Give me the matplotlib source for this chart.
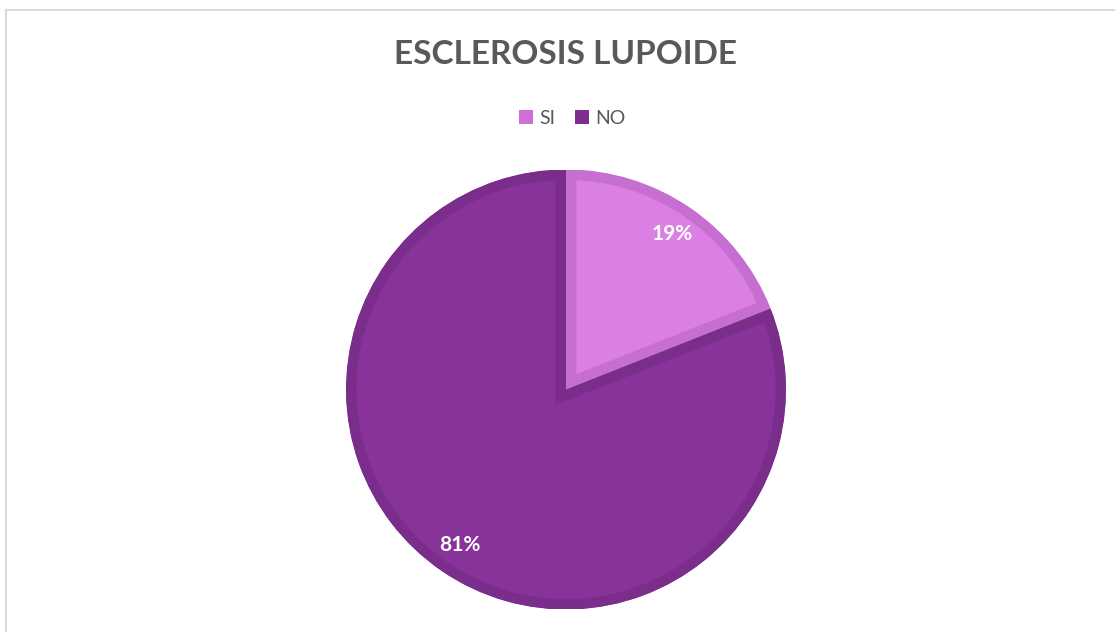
import matplotlib.pyplot as plt
from matplotlib.patches import Rectangle

# data
labels = ['SI', 'NO']
values = [19, 81]
colors = ['#dc7fe4', '#88339a']
edge_colors = ['#c66fd1', '#7b2d8b']
title = 'ESCLEROSIS LUPOIDE'

plt.rcParams['font.family'] = ['Lato', 'DejaVu Sans']

W, H = 1115, 632
fig = plt.figure(figsize=(W / 100, H / 100), dpi=100)

# light frame of the chart area
fig.add_artist(Rectangle((6 / W, -0.1), 1.2, (H - 10) / H + 0.1, transform=fig.transFigure,
                         fill=False, edgecolor='#d9d9d9', linewidth=1.5))

# pie axes: center (566, 389.5), radius 220 px
cx, cy, r = 566, H - 389.5, 220
ax = fig.add_axes([(cx - r) / W, (cy - r) / H, 2 * r / W, 2 * r / H])

wedges, texts, autotexts = ax.pie(values, colors=colors, startangle=90, counterclock=False,
                                  autopct='%1.0f%%', pctdistance=0.855, radius=1,
                                  textprops=dict(color='white', fontsize=15, fontweight='bold'))
# border drawn only inside each slice
for w, ec in zip(wedges, edge_colors):
    w.set_edgecolor(ec)
    w.set_linewidth(15)
    w.set_joinstyle('miter')
    w.set_clip_on(True)
    w.set_clip_path(w)
ax.set_xlim(-1, 1)
ax.set_ylim(-1, 1)
ax.set_aspect('equal')
ax.axis('off')

fig.text(566 / W, 1 - 55 / H, title, ha='center', va='center', fontsize=24,
         fontweight='bold', color='#595959')

leg = fig.legend(wedges, labels, loc='center', bbox_to_anchor=(572 / W, 1 - 118 / H), ncol=2,
                 frameon=False, fontsize=14, handlelength=0.75, handleheight=0.75,
                 handletextpad=0.3, columnspacing=1.0, labelcolor='#595959')
for h, c in zip(leg.legend_handles, ['#cc70d6', '#7f2d8f']):
    h.set_facecolor(c)
    h.set_edgecolor(c)
    h.set_linewidth(0)

fig.savefig('out.png', dpi=100)
